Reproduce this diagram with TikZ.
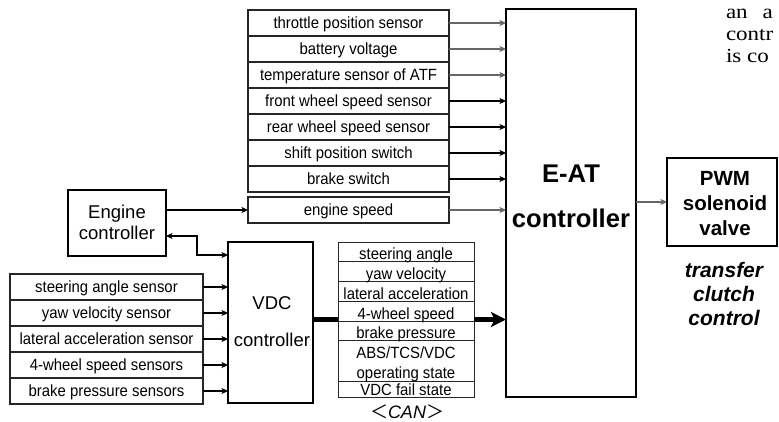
\documentclass[tikz,border=0pt]{standalone}
\usepackage{fontspec}
\setmainfont{Liberation Sans}
\newfontfamily\sensf[FakeStretch=0.92]{Liberation Sans}
\newfontfamily\serifx[FakeStretch=1.15]{Liberation Serif}
\newfontfamily\cjkx{Noto Sans CJK JP}
\usetikzlibrary{arrows.meta}
\begin{document}
\begin{tikzpicture}[x=1pt,y=-1pt,
  sfont/.style={font=\sensf\fontsize{16.2}{17}\selectfont},
  sbox/.style={draw=black!85, line width=1.1pt, inner sep=0pt, outer sep=0pt,
    anchor=north west, minimum width=201pt, minimum height=26pt,
    text height=11.8pt, text depth=0pt, sfont},
  lbox/.style={sbox, minimum width=193pt},
  ctrl/.style={draw=black, line width=2pt, inner sep=0pt, outer sep=0pt, anchor=north west},
  lab/.style={inner sep=0pt, outer sep=0pt, text depth=0pt},
  arr/.style={line width=1.1pt, -{Stealth[length=6.5pt,width=6pt,inset=1.6pt]}},
  darr/.style={line width=1.1pt, {Stealth[length=6.5pt,width=6pt,inset=1.6pt]}-{Stealth[length=6.5pt,width=6pt,inset=1.6pt]}},
  bus/.style={line width=4.5pt},
  busarr/.style={line width=4.5pt, -{Stealth[length=15pt,width=15pt,inset=3.5pt]}},
  canline/.style={draw=black!85, line width=1pt},
  cantxt/.style={inner sep=0pt, anchor=base, sfont},
  pagetxt/.style={inner sep=0pt, outer sep=0pt, anchor=base west, text depth=0pt,
    font=\serifx\fontsize{20}{22}\selectfont}
]
\useasboundingbox (0,0) rectangle (779,421);

% main controllers
\node[ctrl, minimum width=130pt, minimum height=388pt] (eat) at (506,9) {};
\node[lab, font=\fontsize{25.6}{28}\selectfont\bfseries, text height=18.4pt] (eat1) at (571,173) {E-AT};
\node[lab, font=\fontsize{25.6}{28}\selectfont\bfseries, text height=18.4pt] (eat2) at (571,218) {controller};

\node[ctrl, minimum width=98pt, minimum height=66pt] (ec) at (68,190) {};
\node[lab, font=\fontsize{18.5}{20}\selectfont, text height=13.3pt] (ec1) at (117,212) {Engine};
\node[lab, font=\fontsize{18.5}{20}\selectfont, text height=13.3pt] (ec2) at (117,233) {controller};

\node[ctrl, minimum width=85pt, minimum height=161pt] (vdc) at (228,242) {};
\node[lab, font=\fontsize{18.5}{20}\selectfont, text height=13.3pt] (vdc1) at (272,303) {VDC};
\node[lab, font=\fontsize{18.5}{20}\selectfont, text height=13.3pt] (vdc2) at (272,340) {controller};

\node[ctrl, minimum width=110pt, minimum height=88pt] (pwm) at (667,158) {};
\node[lab, font=\fontsize{20.5}{22}\selectfont\bfseries, text height=14.8pt] (pwm1) at (725,178) {PWM};
\node[lab, font=\fontsize{20.5}{22}\selectfont\bfseries, text height=14.8pt] (pwm2) at (725,203) {solenoid};
\node[lab, font=\fontsize{20.5}{22}\selectfont\bfseries, text height=14.8pt] (pwm3) at (725,228) {valve};

\node[lab, font=\fontsize{21}{22}\selectfont\bfseries\itshape, text height=15.1pt] (tc1) at (724,270) {transfer};
\node[lab, font=\fontsize{21}{22}\selectfont\bfseries\itshape, text height=15.1pt] (tc2) at (724,294) {clutch};
\node[lab, font=\fontsize{21}{22}\selectfont\bfseries\itshape, text height=15.1pt] (tc3) at (724,318) {control};

% top sensors
\foreach \t/\c [count=\i] in {throttle position sensor/black!60, battery voltage/black!60,
    temperature sensor of ATF/black!60, front wheel speed sensor/black,
    rear wheel speed sensor/black, shift position switch/black, brake switch/black}{
  \node[sbox] (t\i) at (248,{10+26*(\i-1)}) {\t};
  \draw[arr, draw=\c, fill=\c] (t\i.east) -- (t\i.east -| eat.west);
}

% engine speed
\node[sbox] (es) at (248,197) {engine speed};
\draw[arr, draw=black!60, fill=black!60] (es.east) -- (es.east -| eat.west);
\draw[arr] (ec.east |- es.west) -- (es.west);

% engine controller <-> VDC
\coordinate (j0) at (166,236);
\coordinate (j1) at (197,255);
\draw[darr] (j0) -| (j1) -- (j1 -| vdc.west);

% left sensors
\foreach \t [count=\i] in {steering angle sensor, yaw velocity sensor,
    lateral acceleration sensor, 4-wheel speed sensors, brake pressure sensors}{
  \node[lbox] (l\i) at (10,{274+26*(\i-1)}) {\t};
  \draw[arr] (l\i.east) -- (l\i.east -| vdc.west);
}

% CAN block
\node[draw=black!85, line width=1pt, inner sep=0pt, outer sep=0pt, anchor=north west,
  minimum width=136pt, minimum height=155pt] (can) at (338,242) {};
\foreach \y in {261,281,301,321,340,381}{
  \draw[canline] (can.west |- {(0,\y)}) -- (can.east |- {(0,\y)});
}
\node[cantxt] (c1) at (406,259.5) {steering angle};
\node[cantxt] (c2) at (406,279.5) {yaw velocity};
\node[cantxt] (c3) at (406,299.5) {lateral acceleration};
\node[cantxt] (c4) at (406,319) {4-wheel speed};
\node[cantxt] (c5) at (406,338.5) {brake pressure};
\node[cantxt] (c6) at (406,358.5) {ABS/TCS/VDC};
\node[cantxt] (c7) at (406,378.5) {operating state};
\node[cantxt] (c8) at (406,395.5) {VDC fail state};
\node[inner sep=0pt, anchor=base, text depth=0pt, font=\fontsize{18}{20}\selectfont\itshape] (canlab) at (407,418)
  {{\cjkx ＜}CAN{\cjkx ＞}};

\draw[bus] (vdc.east |- can.west) -- (can.west);
\draw[busarr] (can.east) -- (can.east -| eat.west);

% output
\draw[arr, draw=black!60, fill=black!60] (eat.east |- pwm.west) -- (pwm.west);

% surrounding page text (cut off at the picture edge in the reference)
\node[pagetxt, text height=11pt] (p1) at (726,18) {an\hspace{15pt}a};
\node[pagetxt, text height=14pt] (p3) at (726,40) {contr};
\node[pagetxt, text height=14pt] (p4) at (726,62) {is co};
\end{tikzpicture}
\end{document}
